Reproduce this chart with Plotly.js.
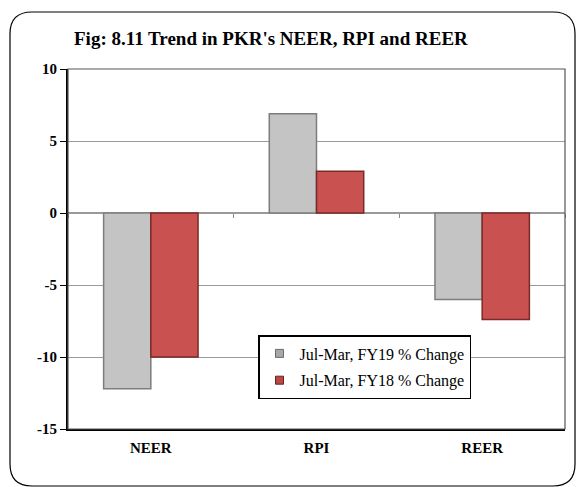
<!DOCTYPE html>
<html><head><meta charset="utf-8">
<script src="https://cdn.plot.ly/plotly-3.0.1.min.js"></script>
<style>html,body{margin:0;padding:0;background:#fff}#chart{width:576px;height:487px}</style>
</head><body><div id="chart"></div>
<script>
const categories = ["NEER", "RPI", "REER"];
const fy19Values = [-12.2, 6.9, -6.0];
const fy18Values = [-10.0, 2.9, -7.4];
const seriesNames = ["Jul-Mar, FY19 % Change", "Jul-Mar, FY18 % Change"];
const yTicks = [10, 5, 0, -5, -10, -15];

const FONT = "'Liberation Serif', 'Times New Roman', serif";
const W = 576, H = 487, L = 68, R = 11, T = 69, B = 58;
const pw = W - L - R, ph = H - T - B;
const px = v => (v - L) / pw;
const py = v => (H - B - v) / ph;

// rounded outer border in paper coords
const x0 = px(10), x1 = px(575), y0 = py(12), y1 = py(486);
const rx = 22 / pw, ry = 22 / ph;
const borderPath = `M ${x0 + rx} ${y0} L ${x1 - rx} ${y0} Q ${x1} ${y0} ${x1} ${y0 - ry} L ${x1} ${y1 + ry} Q ${x1} ${y1} ${x1 - rx} ${y1} L ${x0 + rx} ${y1} Q ${x0} ${y1} ${x0} ${y1 + ry} L ${x0} ${y0 - ry} Q ${x0} ${y0} ${x0 + rx} ${y0} Z`;

const GRAY = "#c4c4c4", GRAY_EDGE = "#7d7d7d";
const RED = "#c9514f", RED_EDGE = "#7a2b29";

const traces = [
  {type: "bar", x: categories, y: fy19Values, name: seriesNames[0], showlegend: false,
   marker: {color: GRAY, line: {color: GRAY_EDGE, width: 1.5}}},
  {type: "bar", x: categories, y: fy18Values, name: seriesNames[1], showlegend: false,
   marker: {color: RED, line: {color: RED_EDGE, width: 1.5}}},
  {type: "bar", x: categories, y: [0, 0, 0], xaxis: "x2", showlegend: false,
   hoverinfo: "skip", marker: {color: "rgba(0,0,0,0)"}},
  {type: "scatter", mode: "markers", x: [null], y: [null], name: seriesNames[0],
   legendgroup: "a", marker: {symbol: "square", size: 8, color: "#a8a8a8", line: {color: "#6a6a6a", width: 1}}},
  {type: "scatter", mode: "markers", x: [null], y: [null], name: seriesNames[1],
   legendgroup: "b", marker: {symbol: "square", size: 8, color: "#b84745", line: {color: "#6a2220", width: 1}}}
];

const layout = {
  width: W, height: H,
  margin: {l: L, r: R, t: T, b: B},
  paper_bgcolor: "#fff", plot_bgcolor: "#fff",
  font: {family: FONT, color: "#000", size: 15},
  title: {text: "<b>Fig: 8.11 Trend in PKR's NEER, RPI and REER</b>",
          font: {family: FONT, size: 19, color: "#000"},
          xref: "container", yref: "container", x: 74 / W, xanchor: "left",
          y: 1 - 38 / H, yanchor: "middle"},
  barmode: "group", bargap: 0.43, bargroupgap: 0,
  xaxis: {type: "category", showline: true, linecolor: "#000", linewidth: 2,
          mirror: false, ticks: "", showgrid: false, zeroline: false,
          tickfont: {family: FONT, size: 15, color: "#000", weight: "bold"},
          ticklabelstandoff: 4},
  xaxis2: {type: "category", overlaying: "x", matches: "x", anchor: "free",
           position: py(213), showline: false, ticks: "outside", ticklen: 4,
           tickcolor: "#888", tickson: "boundaries", showticklabels: false,
           showgrid: false, zeroline: false},
  yaxis: {range: [-15, 10], tickvals: yTicks, ticktext: yTicks.map(String),
          showline: true, linecolor: "#000", linewidth: 2, ticks: "outside",
          ticklen: 6, tickcolor: "#000", showgrid: true, gridcolor: "#9a9a9a",
          gridwidth: 1, zeroline: true, zerolinecolor: "#9a9a9a", zerolinewidth: 1.5,
          tickfont: {family: FONT, size: 15, color: "#000", weight: "bold"}},
  legend: {x: px(258), y: py(335), xanchor: "left", yanchor: "top",
           bgcolor: "#fff", bordercolor: "#000", borderwidth: 1.5,
           font: {family: FONT, size: 16, color: "#000"},
           itemwidth: 30, tracegroupgap: 3, traceorder: "grouped"},
  shapes: [
    {type: "path", xref: "paper", yref: "paper", path: borderPath,
     line: {color: "#000", width: 1.2}, fillcolor: "rgba(0,0,0,0)", layer: "below"},
    {type: "rect", xref: "paper", yref: "paper", x0: 0, x1: 1, y0: 0, y1: 1,
     line: {color: "#555", width: 1.2}, layer: "above"}
  ],
  showlegend: true
};

Plotly.newPlot("chart", traces, layout, {displayModeBar: false, staticPlot: true});
</script></body></html>
